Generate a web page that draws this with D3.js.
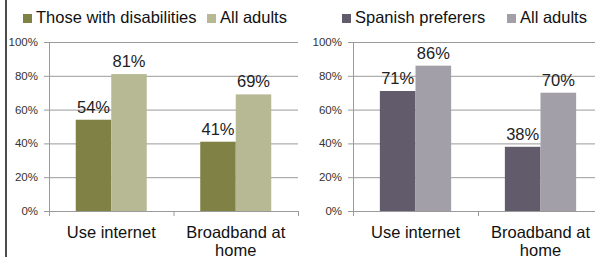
<!DOCTYPE html>
<html>
<head>
<meta charset="utf-8">
<script src="https://cdn.jsdelivr.net/npm/d3@7"></script>
<style>
  html, body { margin: 0; padding: 0; background: #fff; }
  svg { display: block; font-family: "Liberation Sans", Arial, sans-serif; }
</style>
</head>
<body>
<div id="chart"></div>
<script>
const categories = ["Use internet", "Broadband at home"];
const categoryLines = [["Use internet"], ["Broadband at", "home"]];
const yTicks = [0, 20, 40, 60, 80, 100];

const disabilitySeries = ["Those with disabilities", "All adults"];
const disabilityValues = [[54, 81], [41, 69]];
const disabilityColors = ["#7f8145", "#b6b994"];

const spanishSeries = ["Spanish preferers", "All adults"];
const spanishValues = [[71, 86], [38, 70]];
const spanishColors = ["#625b6b", "#a39fa8"];

const width = 595, height = 257;

const svg = d3.select("#chart").append("svg")
  .attr("width", width)
  .attr("height", height);

// left border line
svg.append("line")
  .attr("x1", 6).attr("x2", 6).attr("y1", 0).attr("y2", height)
  .attr("stroke", "#111").attr("stroke-width", 1.5);

function drawPanel(opts) {
  const { x0, x1, series, values, colors, legend } = opts;
  const g = svg.append("g");

  const y = d3.scaleLinear().domain([0, 100]).range([211, 42]);
  const x = d3.scaleBand().domain(categories).range([x0, x1]);
  const xs = d3.scaleBand().domain(series).range([0, x.bandwidth()]).paddingOuter(0.754);

  // gridlines
  g.append("g").selectAll("line")
    .data(yTicks)
    .join("line")
    .attr("x1", x0 - 5).attr("x2", x1)
    .attr("y1", d => y(d) + 0.5).attr("y2", d => y(d) + 0.5)
    .attr("stroke", "#9a9a9a").attr("stroke-width", 1);

  // y axis line
  g.append("line")
    .attr("x1", x0 + 0.5).attr("x2", x0 + 0.5)
    .attr("y1", y(100)).attr("y2", y(0) + 5)
    .attr("stroke", "#9a9a9a");

  // category tick marks
  g.append("g").selectAll("line")
    .data(categories.slice(1).map(c => x(c)).concat([x1]))
    .join("line")
    .attr("x1", d => d + 0.5).attr("x2", d => d + 0.5)
    .attr("y1", y(0)).attr("y2", y(0) + 5)
    .attr("stroke", "#9a9a9a");

  // y tick labels
  g.append("g").selectAll("text")
    .data(yTicks)
    .join("text")
    .attr("x", x0 - 11)
    .attr("y", d => y(d))
    .attr("dy", "0.35em")
    .attr("text-anchor", "end")
    .attr("font-size", 11.5)
    .attr("fill", "#333")
    .text(d => d + "%");

  // bars
  const groups = g.append("g").selectAll("g")
    .data(categories)
    .join("g")
    .attr("transform", d => `translate(${x(d)},0)`);

  groups.selectAll("rect")
    .data((d, i) => series.map((s, j) => ({ s, v: values[i][j], j })))
    .join("rect")
    .attr("x", d => xs(d.s))
    .attr("width", xs.bandwidth())
    .attr("y", d => y(d.v))
    .attr("height", d => y(0) - y(d.v))
    .attr("fill", d => colors[d.j]);

  groups.selectAll("text")
    .data((d, i) => series.map((s, j) => ({ s, v: values[i][j], j })))
    .join("text")
    .attr("x", d => xs(d.s) + xs.bandwidth() / 2)
    .attr("y", d => y(d.v) - 7)
    .attr("text-anchor", "middle")
    .attr("font-size", 16.5)
    .attr("fill", "#222")
    .text(d => d.v + "%");

  // category labels
  g.append("g").selectAll("text")
    .data(categories)
    .join("text")
    .attr("x", d => x(d) + x.bandwidth() / 2)
    .attr("y", 238)
    .attr("text-anchor", "middle")
    .attr("font-size", 16.5)
    .attr("fill", "#111")
    .each(function(d, i) {
      d3.select(this).selectAll("tspan")
        .data(categoryLines[i])
        .join("tspan")
        .attr("x", x(d) + x.bandwidth() / 2)
        .attr("dy", (t, k) => k === 0 ? 0 : 18)
        .text(t => t);
    });

  // legend
  const lg = g.append("g");
  series.forEach((s, j) => {
    lg.append("rect")
      .attr("x", legend[j]).attr("y", 14)
      .attr("width", 9).attr("height", 9)
      .attr("fill", colors[j]);
    lg.append("text")
      .attr("x", legend[j] + 13).attr("y", 23)
      .attr("font-size", 16.5)
      .attr("fill", "#111")
      .text(s);
  });
}

drawPanel({ x0: 49, x1: 298, series: disabilitySeries, values: disabilityValues, colors: disabilityColors, legend: [23, 207] });
drawPanel({ x0: 353, x1: 603, series: spanishSeries, values: spanishValues, colors: spanishColors, legend: [342, 507] });
</script>
</body>
</html>
